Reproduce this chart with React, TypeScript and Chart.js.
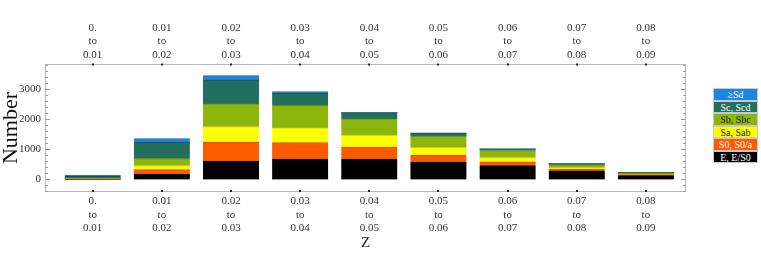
import React, { useEffect, useRef } from "react";
import { Chart, registerables } from "chart.js";
Chart.register(...registerables);

// Redshift bins (tick labels, shown on top and bottom axes)
const binLabels: string[][] = [
  ["0.", "to", "0.01"],
  ["0.01", "to", "0.02"],
  ["0.02", "to", "0.03"],
  ["0.03", "to", "0.04"],
  ["0.04", "to", "0.05"],
  ["0.05", "to", "0.06"],
  ["0.06", "to", "0.07"],
  ["0.07", "to", "0.08"],
  ["0.08", "to", "0.09"],
];

// Morphological type series (bottom to top of the stack)
const seriesNames = ["E, E/S0", "S0, S0/a", "Sa, Sab", "Sb, Sbc", "Sc, Scd", "\u2265Sd"];
const countE = [5, 165, 610, 675, 675, 585, 455, 285, 120];
const countS0 = [15, 155, 625, 545, 400, 215, 125, 55, 35];
const countSa = [5, 135, 520, 490, 400, 265, 145, 55, 15];
const countSb = [10, 235, 755, 755, 535, 375, 235, 90, 30];
const countSc = [65, 545, 800, 400, 210, 100, 55, 35, 35];
const countSd = [30, 120, 145, 55, 0, 0, 0, 0, 0];
const seriesValues = [countE, countS0, countSa, countSb, countSc, countSd];

const fillColors = ["#000000", "#ff5a00", "#ffff00", "#8cb60c", "#246e5e", "#1c86e0"];
const edgeColors = ["#000000", "#d05010", "#c8c830", "#6a8a10", "#1a5448", "#1668b0"];
const legendText = ["#ffffff", "#ffffff", "#222222", "#222222", "#ffffff", "#ffffff"];

const yTickLabels = [0, 1000, 2000, 3000];

const SERIF = "'Liberation Serif', 'Times New Roman', serif";

const framePlugin = {
  id: "frameTicks",
  afterDatasetsDraw(chart: any) {
    const { ctx, chartArea: a, scales } = chart;
    ctx.save();
    ctx.strokeStyle = "#b8b8b8";
    ctx.lineWidth = 1;
    ctx.strokeRect(a.left + 0.5, a.top + 0.5, a.right - a.left - 1, a.bottom - a.top - 1);
    const y = scales.y;
    ctx.strokeStyle = "#9c9c9c";
    ctx.beginPath();
    y.ticks.forEach((t: any) => {
      const py = Math.round(y.getPixelForValue(t.value)) + 0.5;
      const len = yTickLabels.includes(t.value) ? 5 : 3;
      ctx.moveTo(a.left, py);
      ctx.lineTo(a.left + len, py);
      ctx.moveTo(a.right, py);
      ctx.lineTo(a.right - len, py);
    });
    ctx.stroke();
    ctx.fillStyle = "#222";
    scales.x.ticks.forEach((t: any) => {
      const px = Math.round(scales.x.getPixelForValue(t.value));
      ctx.fillRect(px - 1, a.top - 0.5, 2, 2);
      ctx.fillRect(px - 1, a.bottom - 2, 2, 2);
    });
    ctx.restore();
  },
};

export default function App() {
  const ref = useRef<HTMLCanvasElement | null>(null);

  useEffect(() => {
    if (!ref.current) return;
    const xMin = -0.69;
    const xMax = 8.58;
    const setXTicks = (scale: any) => {
      scale.ticks = binLabels.map((_, i) => ({ value: i }));
    };
    const tickFont = { family: SERIF, size: 11, lineHeight: 1.25 };
    const noGrid = { display: false, drawTicks: false, tickLength: 0 };
    const chart = new Chart(ref.current, {
      type: "bar",
      data: {
        datasets: seriesValues.map((vals, s) => ({
          label: seriesNames[s],
          data: vals.map((v, i) => ({ x: i, y: v })),
          backgroundColor: fillColors[s],
          borderColor: edgeColors[s],
          borderWidth: { top: 1, left: 0, right: 0, bottom: 0 },
          borderSkipped: false,
          inflateAmount: 0.4,
          barPercentage: 0.81,
          categoryPercentage: 1,
          xAxisID: "x",
          yAxisID: "y",
        })),
      },
      options: {
        animation: false,
        responsive: true,
        maintainAspectRatio: false,
        layout: { padding: { left: 0, right: 75, top: 0, bottom: 0 } },
        plugins: { legend: { display: false }, tooltip: { enabled: false } },
        scales: {
          x: {
            type: "linear",
            position: "bottom",
            stacked: true,
            offset: false,
            min: xMin,
            max: xMax,
            grid: noGrid,
            border: { display: false },
            afterBuildTicks: setXTicks,
            afterFit: (s: any) => {
              s.height = 74;
            },
            ticks: {
              autoSkip: false,
              maxRotation: 0,
              padding: 2,
              color: "#333",
              font: tickFont,
              callback: (v: any) => binLabels[v] ?? "",
            },
            title: {
              display: true,
              text: "Z",
              color: "#222",
              font: { family: SERIF, size: 15, lineHeight: 1.2 },
              padding: { top: 0, bottom: 14 },
            },
          },
          x2: {
            type: "linear",
            axis: "x",
            position: "top",
            offset: false,
            min: xMin,
            max: xMax,
            grid: noGrid,
            border: { display: false },
            afterBuildTicks: setXTicks,
            afterFit: (s: any) => {
              s.height = 64;
            },
            ticks: {
              autoSkip: false,
              maxRotation: 0,
              padding: 2,
              color: "#333",
              font: tickFont,
              callback: (v: any) => binLabels[v] ?? "",
            },
          },
          y: {
            type: "linear",
            position: "left",
            stacked: true,
            min: -420,
            max: 3840,
            grid: noGrid,
            border: { display: false },
            afterFit: (s: any) => {
              s.width = 45;
            },
            ticks: {
              stepSize: 200,
              autoSkip: false,
              includeBounds: false,
              padding: 4,
              color: "#333",
              font: { family: SERIF, size: 11 },
              callback: (v: any) => (yTickLabels.includes(v) ? String(v) : ""),
            },
            title: {
              display: true,
              text: "Number",
              color: "#111",
              font: { family: SERIF, size: 22, lineHeight: 1 },
              padding: { top: 0, bottom: 0 },
            },
          },
        },
      },
      plugins: [framePlugin],
    } as any);
    return () => chart.destroy();
  }, []);

  const legendOrder = seriesNames.map((_, i) => i).reverse();

  return (
    <div style={{ position: "absolute", left: 0, top: 0, width: 761, height: 266, background: "#fff" }}>
      <canvas ref={ref} />
      <div style={{ position: "absolute", left: 713, top: 88, width: 45 }}>
        {legendOrder.map((i) => (
          <div
            key={i}
            style={{
              height: 12.5,
              lineHeight: "12.5px",
              boxSizing: "border-box",
              border: "0.5px solid #c8c8c8",
              background: fillColors[i],
              color: legendText[i],
              fontFamily: SERIF,
              fontSize: 10,
              textAlign: "center",
              whiteSpace: "nowrap",
            }}
          >
            {seriesNames[i]}
          </div>
        ))}
      </div>
    </div>
  );
}
